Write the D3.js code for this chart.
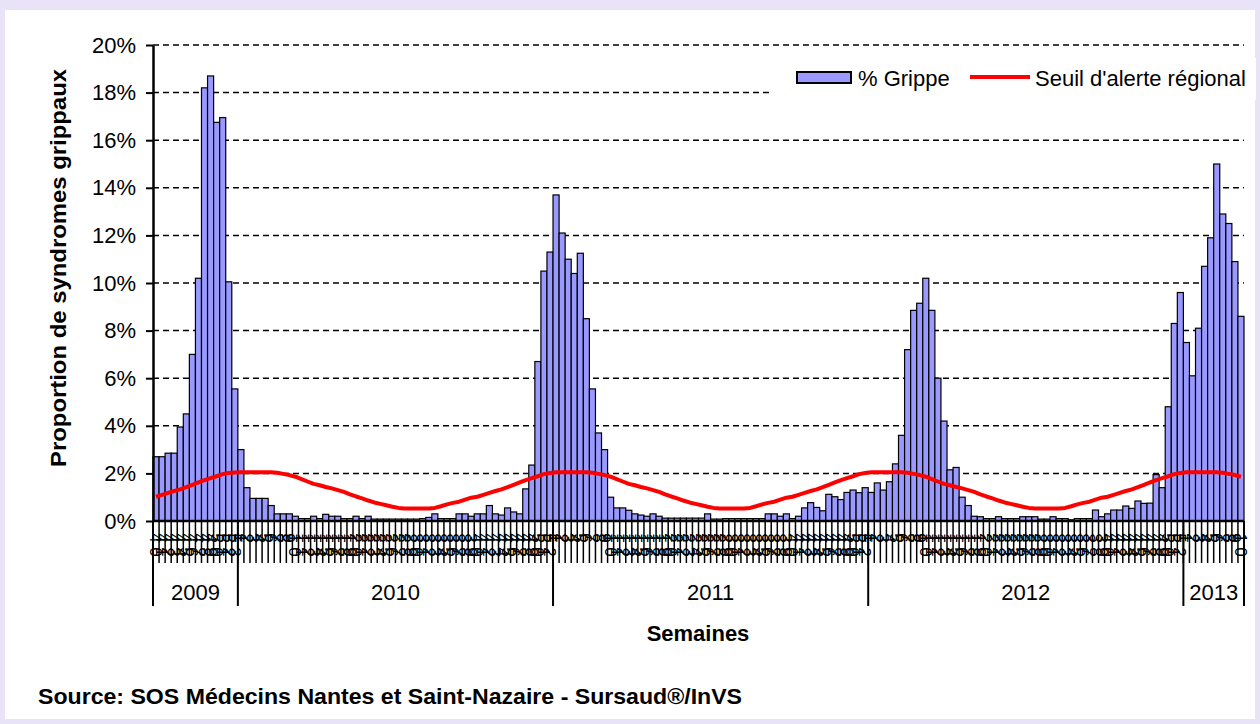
<!DOCTYPE html>
<html>
<head>
<meta charset="utf-8">
<title>Syndromes grippaux - SOS Médecins</title>
<script src="https://cdn.jsdelivr.net/npm/d3@7"></script>
<style>
  body { margin: 0; background: #e8e3f7; }
  svg { display: block; font-family: "Liberation Sans", Arial, sans-serif; }
</style>
</head>
<body>
<script>
// données (en %)
var annees = ["2009", "2010", "2011", "2012", "2013"];
var premiereSemaine = [40, 1, 1, 1, 1];

var grippe2009 = [2.7, 2.7, 2.85, 2.85, 3.95, 4.5, 7.0, 10.2, 18.2, 18.7, 16.75, 16.95, 10.05, 5.55];
var grippe2010 = [3.0, 1.4, 0.95, 0.95, 0.95, 0.65, 0.3, 0.3, 0.3, 0.2, 0.1, 0.1, 0.2, 0.1, 0.28, 0.2, 0.2, 0.1, 0.1, 0.2,
                  0.1, 0.2, 0.08, 0.08, 0.08, 0.08, 0.08, 0.08, 0.08, 0.08, 0.1, 0.15, 0.3, 0.1, 0.1, 0.1, 0.3, 0.3, 0.2, 0.3,
                  0.3, 0.65, 0.3, 0.25, 0.55, 0.38, 0.3, 1.35, 2.35, 6.7, 10.5, 11.3];
var grippe2011 = [13.7, 12.1, 11.0, 10.4, 11.25, 8.5, 5.55, 3.7, 3.0, 1.0, 0.55, 0.55, 0.45, 0.3, 0.25, 0.2, 0.3, 0.2, 0.12, 0.12,
                  0.12, 0.12, 0.12, 0.12, 0.12, 0.3, 0.08, 0.08, 0.1, 0.1, 0.1, 0.1, 0.1, 0.1, 0.1, 0.3, 0.3, 0.2, 0.3, 0.1,
                  0.2, 0.55, 0.77, 0.57, 0.43, 1.12, 1.02, 0.9, 1.2, 1.3, 1.19, 1.4];
var grippe2012 = [1.2, 1.6, 1.3, 1.65, 2.4, 3.6, 7.2, 8.85, 9.15, 10.2, 8.85, 6.0, 4.2, 2.15, 2.25, 1.0, 0.65, 0.2, 0.18, 0.1,
                  0.1, 0.18, 0.1, 0.1, 0.1, 0.18, 0.18, 0.18, 0.08, 0.08, 0.18, 0.1, 0.1, 0.05, 0.1, 0.1, 0.1, 0.46, 0.18, 0.3,
                  0.46, 0.46, 0.63, 0.53, 0.84, 0.74, 0.75, 1.95, 1.4, 4.8, 8.3, 9.6];
var grippe2013 = [7.5, 6.1, 8.1, 10.7, 11.9, 15.0, 12.9, 12.5, 10.9, 8.6];

// seuil d'alerte régional par numéro de semaine (S1 à S53)
var seuilSemaine = [2.05, 2.05, 2.05, 2.05, 2.05, 2.05, 2.03, 1.98, 1.93, 1.86,
                    1.76, 1.66, 1.56, 1.5, 1.43, 1.37, 1.3, 1.22, 1.12, 1.03,
                    0.95, 0.86, 0.78, 0.72, 0.66, 0.6, 0.55, 0.53, 0.53, 0.53,
                    0.53, 0.53, 0.55, 0.62, 0.7, 0.76, 0.81, 0.9, 0.98, 1.02,
                    1.1, 1.18, 1.26, 1.33, 1.42, 1.52, 1.62, 1.72, 1.8, 1.88,
                    1.97, 2.02, 2.04];

var yTicks = [0, 0.02, 0.04, 0.06, 0.08, 0.10, 0.12, 0.14, 0.16, 0.18, 0.20];

var series = [grippe2009, grippe2010, grippe2011, grippe2012, grippe2013];
var donnees = [];
annees.forEach(function(an, a) {
    series[a].forEach(function(v, i) {
        var sem = premiereSemaine[a] + i;
        donnees.push({annee: an, semaine: sem, cle: an + "-" + sem, grippe: v / 100, seuil: seuilSemaine[sem - 1] / 100});
    });
});

var width = 1260, height = 724;
var gauche = 153, droite = 1244, haut = 45, bas = 521;

var svg = d3.select("body").append("svg")
            .attr("width", width)
            .attr("height", height);

svg.append("rect").attr("width", width).attr("height", height).attr("fill", "#e8e3f7");
svg.append("rect").attr("x", 5).attr("y", 10).attr("width", 1250).attr("height", 709).attr("fill", "#ffffff");

var x = d3.scaleBand().domain(donnees.map(d => d.cle)).range([gauche, droite]).padding(0);
var y = d3.scaleLinear().domain([0, 0.20]).range([bas, haut]);

// grille en pointillés
svg.append("g").selectAll("line")
    .data(yTicks.slice(1))
    .join("line")
    .attr("x1", gauche).attr("x2", droite)
    .attr("y1", d => y(d)).attr("y2", d => y(d))
    .attr("stroke", "#000").attr("stroke-width", 1.5)
    .attr("stroke-dasharray", "6,4");

// fond blanc de la légende
svg.append("rect").attr("x", 773).attr("y", 58).attr("width", 483).attr("height", 42).attr("fill", "#fff");

// barres
svg.append("g").selectAll("rect")
    .data(donnees)
    .join("rect")
    .attr("x", d => x(d.cle))
    .attr("y", d => y(d.grippe))
    .attr("width", x.bandwidth())
    .attr("height", d => bas - y(d.grippe))
    .attr("fill", "#9999ff")
    .attr("stroke", "#000")
    .attr("stroke-width", 1.2);

// seuil
var ligne = d3.line()
    .x(d => x(d.cle) + x.bandwidth() / 2)
    .y(d => y(d.seuil));
svg.append("path")
    .datum(donnees)
    .attr("d", ligne)
    .attr("fill", "none")
    .attr("stroke", "#ff0000")
    .attr("stroke-width", 4)
    .attr("stroke-linejoin", "round");

// axe Y
var axeY = svg.append("g")
    .attr("transform", "translate(" + gauche + ",0)")
    .call(d3.axisLeft(y).tickValues(yTicks).tickFormat(d3.format(".0%")).tickSize(7).tickSizeOuter(0).tickPadding(10));
axeY.select(".domain").attr("stroke", "#000").attr("stroke-width", 2.5);
axeY.selectAll(".tick line").attr("stroke", "#000").attr("stroke-width", 2);
axeY.selectAll("text").attr("font-size", 22).attr("fill", "#000").attr("font-family", "Liberation Sans, Arial, sans-serif");

// axe X : ligne de base, graduations, numéros de semaine
svg.append("line").attr("x1", gauche).attr("x2", droite).attr("y1", bas).attr("y2", bas)
    .attr("stroke", "#000").attr("stroke-width", 2.5);

var bords = donnees.map(d => x(d.cle)).concat([droite]);
svg.append("g").selectAll("line")
    .data(bords)
    .join("line")
    .attr("x1", d => d).attr("x2", d => d)
    .attr("y1", bas).attr("y2", 563)
    .attr("stroke", "#000").attr("stroke-width", 1.5);

svg.append("g").selectAll("g")
    .data(donnees)
    .join("g")
    .attr("transform", d => "translate(" + (x(d.cle) + x.bandwidth() / 2) + ",0)")
    .each(function(d) {
        var chiffres = String(d.semaine).split("");
        d3.select(this).selectAll("text")
            .data(chiffres)
            .join("text")
            .attr("transform", (c, j) => "translate(0," + (538 + j * 14) + ") rotate(90)")
            .attr("text-anchor", "middle")
            .attr("dy", "0.35em")
            .attr("font-size", 17)
            .attr("fill", "#000")
            .text(c => c);
    });

// séparateurs et libellés des années
var debuts = annees.map(an => x(donnees.find(d => d.annee == an).cle));
svg.append("g").selectAll("line")
    .data(debuts.concat([droite]))
    .join("line")
    .attr("x1", d => d).attr("x2", d => d)
    .attr("y1", bas).attr("y2", 606)
    .attr("stroke", "#000").attr("stroke-width", 2);

svg.append("g").selectAll("text")
    .data(annees)
    .join("text")
    .attr("x", (an, i) => ((debuts[i] + (i < annees.length - 1 ? debuts[i + 1] : droite)) / 2))
    .attr("y", 600)
    .attr("text-anchor", "middle")
    .attr("font-size", 22)
    .text(an => an);

// titres
svg.append("text")
    .attr("transform", "translate(66,268) rotate(-90)")
    .attr("text-anchor", "middle")
    .attr("font-size", 22)
    .attr("font-weight", "bold")
    .attr("textLength", 398)
    .attr("lengthAdjust", "spacingAndGlyphs")
    .text("Proportion de syndromes grippaux");

svg.append("text")
    .attr("x", 698).attr("y", 641)
    .attr("text-anchor", "middle")
    .attr("font-size", 22)
    .attr("font-weight", "bold")
    .text("Semaines");

svg.append("text")
    .attr("x", 38).attr("y", 704)
    .attr("font-size", 22)
    .attr("font-weight", "bold")
    .attr("textLength", 704)
    .attr("lengthAdjust", "spacingAndGlyphs")
    .text("Source: SOS Médecins Nantes et Saint-Nazaire - Sursaud®/InVS");

// légende
var legende = svg.append("g");
legende.append("rect").attr("x", 797).attr("y", 72).attr("width", 54).attr("height", 11)
    .attr("fill", "#9999ff").attr("stroke", "#000").attr("stroke-width", 2);
legende.append("text").attr("x", 858).attr("y", 86).attr("font-size", 22).text("% Grippe");
legende.append("line").attr("x1", 970).attr("x2", 1030).attr("y1", 77).attr("y2", 77)
    .attr("stroke", "#ff0000").attr("stroke-width", 4);
legende.append("text").attr("x", 1035).attr("y", 86).attr("font-size", 22).text("Seuil d'alerte régional");
</script>
</body>
</html>
